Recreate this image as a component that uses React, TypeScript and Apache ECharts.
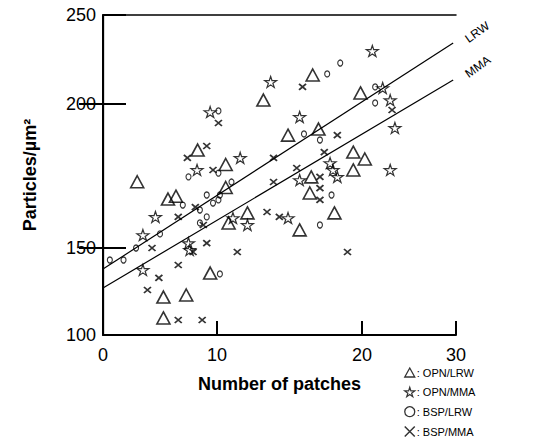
import React, { useEffect, useRef } from "react";
import * as echarts from "echarts";

// Tick labels and where the figure draws them (its axes are unevenly spaced)
const X_TICKS = [0, 10, 20, 30];
const X_TICK_POS = [0, 9.688, 22.01, 30];
const Y_TICKS = [100, 150, 200, 250];
const Y_TICK_POS = [100, 140.78, 208.28, 250];

// [number of patches, particles/µm²]
const OPN_LRW: number[][] = [
  [3.0, 173], [5.7, 167], [6.4, 168], [8.3, 184], [10.6, 179], [10.6, 171],
  [10.8, 158.7], [12.1, 162.2], [13.2, 202.2], [14.9, 189.2], [16.6, 216.3],
  [17.0, 191.3], [15.7, 156.3], [16.5, 174.7], [16.4, 169.1], [18.1, 162.2],
  [19.4, 183.3], [20.3, 180.9], [19.4, 177.1], [19.9, 206.2], [5.3, 121.8],
  [7.3, 123], [5.3, 109.8], [9.4, 135.6],
];
const OPN_MMA: number[][] = [
  [9.4, 197.2], [13.7, 212.4], [15.7, 195.5], [21.1, 229.8], [22.2, 209],
  [23.0, 202.2], [23.5, 191.7], [23.0, 177.1], [11.6, 181.3], [17.8, 179.5],
  [18.0, 177.1], [18.3, 174.7], [15.7, 173.6], [11.1, 160.4], [12.1, 158],
  [14.9, 160.4], [8.25, 177.1], [4.6, 160.8], [3.5, 154.5], [3.5, 137.4],
  [7.5, 151.7], [7.6, 148.9],
];
const BSP_LRW: number[][] = [
  [0.6, 143.1], [1.8, 143.1], [2.9, 150], [5.0, 154.9], [7.0, 164.9],
  [7.5, 174.7], [9.1, 168.4], [9.65, 165.6], [10.1, 166.7], [10.2, 168.4],
  [8.5, 163.2], [9.1, 160.8], [8.5, 158.7], [10.1, 176], [10.1, 197.6],
  [10.2, 135.1], [11.0, 172.9], [16.0, 189.6], [17.1, 187.5], [17.6, 216.9],
  [18.5, 223], [21.4, 209.6], [21.4, 200.6], [17.9, 168.4], [17.1, 158],
];
const BSP_MMA: number[][] = [
  [9.1, 185.4], [10.1, 193.4], [7.4, 181.3], [9.65, 177.1], [8.1, 164.2],
  [6.6, 160.8], [8.8, 158], [4.3, 150], [9.1, 151.7], [7.9, 147.7],
  [6.6, 140.2], [4.9, 132.8], [3.9, 125.9], [6.6, 108.6], [8.7, 108.6],
  [15.9, 209.6], [18.3, 189.2], [23.2, 197.9], [13.9, 181.3], [17.4, 183.3],
  [15.5, 177.8], [17.1, 174.7], [13.9, 172.9], [17.1, 170.8], [17.1, 166.7],
  [13.45, 162.5], [14.3, 160.8], [11.4, 147.7], [19.0, 147.7],
];
// regression lines: endpoints
const LRW_LINE: number[][] = [[0, 137.9], [29.7, 234.3]];
const MMA_LINE: number[][] = [[0, 127], [29.7, 213.5]];

function piece(v: number, from: number[], to: number[]) {
  let i = 0;
  while (i < from.length - 2 && v > from[i + 1]) i++;
  return to[i] + ((v - from[i]) * (to[i + 1] - to[i])) / (from[i + 1] - from[i]);
}
const mapPt = (p: number[]) => [piece(p[0], X_TICKS, X_TICK_POS), piece(p[1], Y_TICKS, Y_TICK_POS)];
const labelFor = (v: number, pos: number[], labels: number[]) => {
  let best = 0;
  pos.forEach((p, i) => { if (Math.abs(p - v) < Math.abs(pos[best] - v)) best = i; });
  return String(labels[best]);
};

const FONT = "'Liberation Sans', Arial, sans-serif";
const STAR = "path://M50,0L61,35L98,35L68,57L79,91L50,70L21,91L32,57L2,35L39,35Z";
const CROSS = "path://M0,0L10,10M10,0L0,10";
const TRI = "path://M50,0L100,90L0,90Z";
const CLEAR = "rgba(0,0,0,0)";

export default function App() {
  const ref = useRef<HTMLDivElement>(null);
  useEffect(() => {
    if (!ref.current) return;
    const chart = echarts.init(ref.current, undefined, { renderer: "svg" });
    const hollow = { color: CLEAR, borderColor: "#000" };
    chart.setOption({
      animation: false,
      backgroundColor: "#fff",
      grid: { left: 103, top: 15, width: 353, height: 320 },
      legend: {
        orient: "vertical",
        left: 404,
        top: 367,
        height: 73,
        padding: 0,
        itemWidth: 10,
        itemHeight: 10,
        itemGap: 8.5,
        data: [
          { name: "OPN/LRW", itemStyle: { color: CLEAR, borderColor: "#000", borderWidth: 1.3 } },
          { name: "OPN/MMA", itemStyle: { color: CLEAR, borderColor: "#000", borderWidth: 1.2 } },
          { name: "BSP/LRW", icon: "circle", itemStyle: { color: CLEAR, borderColor: "#000", borderWidth: 1.3 } },
          { name: "BSP/MMA", itemStyle: { color: CLEAR, borderColor: "#000", borderWidth: 1.5 } },
        ],
        formatter: (n: string) => ": " + n,
        textStyle: { fontFamily: FONT, fontSize: 11, color: "#000", padding: [0, 0, 0, -3] },
      },
      xAxis: [
        {
          type: "value", min: 0, max: 30,
          name: "Number of patches", nameLocation: "middle", nameGap: 40,
          nameTextStyle: { fontFamily: FONT, fontSize: 18, fontWeight: "bold", color: "#000" },
          axisLine: { show: true, lineStyle: { color: "#000", width: 2 } },
          axisTick: { show: true, inside: true, length: 14, customValues: X_TICK_POS, lineStyle: { color: "#000", width: 2 } },
          axisLabel: { customValues: X_TICK_POS, margin: 11, fontFamily: FONT, fontSize: 18, color: "#000",
            formatter: (v: number) => labelFor(v, X_TICK_POS, X_TICKS) },
          splitLine: { show: false },
        },
        {
          type: "value", min: 0, max: 30, position: "top",
          axisLine: { show: true, lineStyle: { color: "#000", width: 1.5 } },
          axisTick: { show: false }, axisLabel: { show: false }, splitLine: { show: false },
        },
      ],
      yAxis: [
        {
          type: "value", min: 100, max: 250,
          name: "Particles/µm²", nameLocation: "middle", nameGap: 64, nameRotate: 90,
          nameTextStyle: { fontFamily: FONT, fontSize: 18, fontWeight: "bold", color: "#000" },
          axisLine: { show: true, lineStyle: { color: "#000", width: 2 } },
          axisTick: { show: true, inside: true, length: 23, customValues: Y_TICK_POS, lineStyle: { color: "#000", width: 2 } },
          axisLabel: { customValues: Y_TICK_POS, margin: 7, fontFamily: FONT, fontSize: 18, color: "#000",
            formatter: (v: number) => labelFor(v, Y_TICK_POS, Y_TICKS) },
          splitLine: { show: false },
        },
        {
          type: "value", min: 100, max: 250, position: "right",
          axisLine: { show: true, lineStyle: { color: "#000", width: 1.3 } },
          axisTick: { show: true, inside: true, length: 24, customValues: [Y_TICK_POS[1], Y_TICK_POS[2]], lineStyle: { color: "#000", width: 2 } },
          axisLabel: { show: false }, splitLine: { show: false },
        },
      ],
      graphic: [
        { type: "text", x: 463, y: 35, rotation: 0.62, style: { text: "LRW", fontFamily: FONT, fontSize: 12, fill: "#000" } },
        { type: "text", x: 463, y: 70, rotation: 0.62, style: { text: "MMA", fontFamily: FONT, fontSize: 12, fill: "#000" } },
      ],
      series: [
        { name: "LRW", type: "line", data: LRW_LINE.map(mapPt), symbol: "none", lineStyle: { color: "#000", width: 1.2 }, z: 1 },
        { name: "MMA", type: "line", data: MMA_LINE.map(mapPt), symbol: "none", lineStyle: { color: "#000", width: 1.2 }, z: 1 },
        { name: "OPN/LRW", type: "scatter", data: OPN_LRW.map(mapPt), symbol: TRI, symbolSize: [13, 12],
          itemStyle: { ...hollow, borderWidth: 1.6 } },
        { name: "OPN/MMA", type: "scatter", data: OPN_MMA.map(mapPt), symbol: STAR, symbolSize: [12, 11],
          itemStyle: { ...hollow, borderWidth: 1.2 } },
        { name: "BSP/LRW", type: "scatter", data: BSP_LRW.map(mapPt), symbol: "circle", symbolSize: [5, 6],
          itemStyle: { ...hollow, borderWidth: 1.2 } },
        { name: "BSP/MMA", type: "scatter", data: BSP_MMA.map(mapPt), symbol: CROSS, symbolSize: [7, 6],
          itemStyle: { ...hollow, borderWidth: 1.7 } },
      ],
    });
    return () => chart.dispose();
  }, []);
  return <div ref={ref} style={{ position: "fixed", left: 0, top: 0, width: 551, height: 440 }} />;
}
